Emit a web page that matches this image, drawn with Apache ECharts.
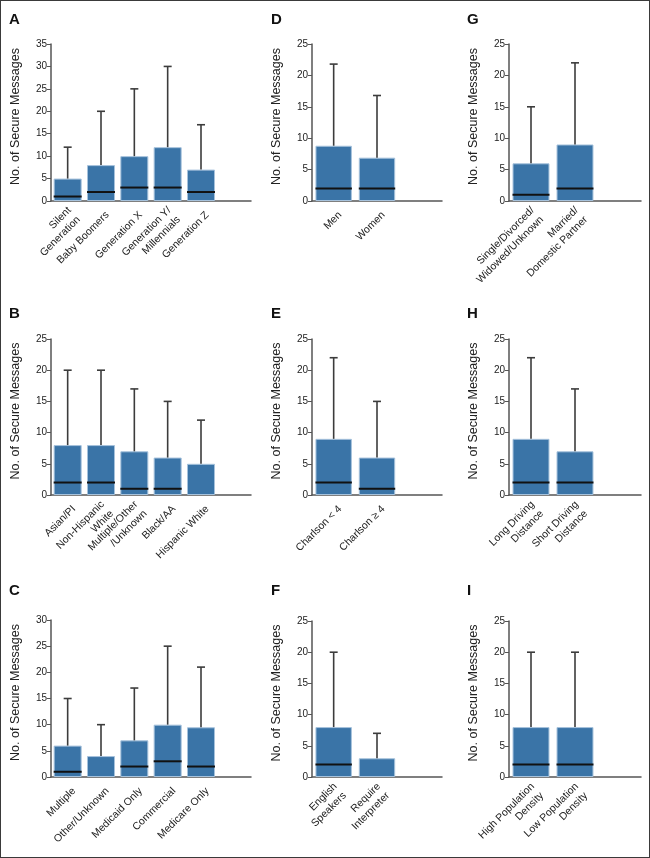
<!DOCTYPE html>
<html><head><meta charset="utf-8">
<script src="https://cdn.jsdelivr.net/npm/echarts@6/dist/echarts.min.js"></script>
<style>
html,body{margin:0;padding:0;background:#fff}
#c{position:absolute;left:0;top:0;width:650px;height:858px}
#f{position:absolute;left:0;top:0;width:650px;height:858px;box-sizing:border-box;border:1px solid #3a3a3a;pointer-events:none}
</style>
</head><body><div id="c"></div><div id="f"></div>
<script>
// Panel A: generation
const catsA = ['Silent\nGeneration','Baby Boomers','Generation X','Generation Y/\nMillennials','Generation Z'];
const upperA = [5, 8, 10, 12, 7];
const medianA = [1, 2, 3, 3, 2];
const whiskerA = [12, 20, 25, 30, 17];
// Panel B: race/ethnicity
const catsB = ['Asian/PI','Non-Hispanic\nWhite','Multiple/Other\n/Unknown','Black/AA','Hispanic White'];
const upperB = [8, 8, 7, 6, 5];
const medianB = [2, 2, 1, 1, 0];
const whiskerB = [20, 20, 17, 15, 12];
// Panel C: insurance
const catsC = ['Multiple','Other/Unknown','Medicaid Only','Commercial','Medicare Only'];
const upperC = [6, 4, 7, 10, 9.5];
const medianC = [1, 0, 2, 3, 2];
const whiskerC = [15, 10, 17, 25, 21];
// Panel D: sex
const catsD = ['Men','Women'];
const upperD = [8.8, 6.9];
const medianD = [2, 2];
const whiskerD = [21.8, 16.8];
// Panel E: Charlson
const catsE = ['Charlson < 4','Charlson ≥ 4'];
const upperE = [9, 6];
const medianE = [2, 1];
const whiskerE = [22, 15];
// Panel F: language
const catsF = ['English\nSpeakers','Require\nInterpreter'];
const upperF = [8, 3];
const medianF = [2, 0];
const whiskerF = [20, 7];
// Panel G: marital status
const catsG = ['Single/Divorced/\nWidowed/Unknown','Married/\nDomestic Partner'];
const upperG = [6, 9];
const medianG = [1, 2];
const whiskerG = [15, 22];
// Panel H: driving distance
const catsH = ['Long Driving\nDistance','Short Driving\nDistance'];
const upperH = [9, 7];
const medianH = [2, 2];
const whiskerH = [22, 17];
// Panel I: population density
const catsI = ['High Population\nDensity','Low Population\nDensity'];
const upperI = [8, 8];
const medianI = [2, 2];
const whiskerI = [20, 20];

const yTitle = 'No. of Secure Messages';

const panels = [
  {tag:'A', cats:catsA, up:upperA, med:medianA, wh:whiskerA, yMax:35, left:51,  top:44,  w:200, h:157, lx:9,   ly:12},
  {tag:'B', cats:catsB, up:upperB, med:medianB, wh:whiskerB, yMax:25, left:51,  top:339, w:200, h:156, lx:9,   ly:306},
  {tag:'C', cats:catsC, up:upperC, med:medianC, wh:whiskerC, yMax:30, left:51,  top:620, w:200, h:157, lx:9,   ly:583},
  {tag:'D', cats:catsD, up:upperD, med:medianD, wh:whiskerD, yMax:25, left:312, top:44,  w:130, h:157, lx:271, ly:12},
  {tag:'E', cats:catsE, up:upperE, med:medianE, wh:whiskerE, yMax:25, left:312, top:339, w:130, h:156, lx:271, ly:306},
  {tag:'F', cats:catsF, up:upperF, med:medianF, wh:whiskerF, yMax:25, left:312, top:621, w:130, h:156, lx:271, ly:583},
  {tag:'G', cats:catsG, up:upperG, med:medianG, wh:whiskerG, yMax:25, left:509, top:44,  w:132, h:157, lx:467, ly:12},
  {tag:'H', cats:catsH, up:upperH, med:medianH, wh:whiskerH, yMax:25, left:509, top:339, w:132, h:156, lx:467, ly:306},
  {tag:'I', cats:catsI, up:upperI, med:medianI, wh:whiskerI, yMax:25, left:509, top:621, w:132, h:156, lx:467, ly:583}
];

const GAP = 0.16;
const FONT = 'Liberation Sans, Arial, sans-serif';
const labelFmt = v => v === '' ? '' : v.split('\n').map(s => '{t|' + s + '}').join('\n');
const grid = [], xAxis = [], yAxis = [], series = [], title = [];
panels.forEach((p, k) => {
  grid.push({left:p.left, top:p.top, width:p.w, height:p.h, containLabel:false});
  title.push({text:p.tag, left:p.lx, top:p.ly, padding:0,
    textStyle:{fontFamily:FONT, fontWeight:'bold', fontSize:15, color:'#111'}});
  xAxis.push({
    type:'category', gridIndex:k, data:p.cats.concat(['']),
    axisLine:{lineStyle:{color:'#555', width:1.5}},
    axisTick:{show:false},
    axisLabel:{interval:0, rotate:45, margin:6, padding:[18,0,0,0], formatter:labelFmt,
      rich:{t:{fontSize:10.5, lineHeight:13, color:'#222', fontFamily:FONT}}}
  });
  yAxis.push({
    type:'value', gridIndex:k, min:0, max:p.yMax, interval:5,
    name:yTitle, nameLocation:'middle', nameRotate:90, nameGap:29,
    nameTextStyle:{fontSize:12.5, color:'#222', fontFamily:FONT, padding:[0,0,0,12]},
    axisLine:{show:true, lineStyle:{color:'#555', width:1.5}},
    axisTick:{show:true, length:4, lineStyle:{color:'#555'}},
    axisLabel:{fontSize:10, color:'#222', margin:4, fontFamily:FONT},
    splitLine:{show:false}
  });
  series.push({
    type:'bar', xAxisIndex:k, yAxisIndex:k, data:p.up, barCategoryGap:(GAP*100)+'%',
    itemStyle:{color:'#3a74a7', borderColor:'#a6c2dc', borderWidth:1}, z:2, silent:true
  });
  series.push({
    type:'custom', xAxisIndex:k, yAxisIndex:k, z:3, silent:true,
    data:p.up.map((u, i) => [i, u, p.wh[i]]),
    renderItem:(params, api) => {
      const a = api.coord([api.value(0), api.value(1)]);
      const b = api.coord([api.value(0), api.value(2)]);
      const st = {stroke:'#3c3c3c', lineWidth:1.6};
      return {type:'group', children:[
        {type:'line', shape:{x1:a[0], y1:a[1], x2:b[0], y2:b[1]}, style:st},
        {type:'line', shape:{x1:b[0]-4, y1:b[1], x2:b[0]+4, y2:b[1]}, style:st}
      ]};
    }
  });
  series.push({
    type:'custom', xAxisIndex:k, yAxisIndex:k, z:4, silent:true,
    data:p.med.map((m, i) => [i, m]),
    renderItem:(params, api) => {
      const v = api.value(1);
      if (!(v > 0)) return null; // a zero median sits on the axis and is not drawn
      const c = api.coord([api.value(0), v]);
      const bw = api.size([1, 0])[0] * (1 - GAP);
      return {type:'line', shape:{x1:c[0]-bw/2, y1:c[1], x2:c[0]+bw/2, y2:c[1]}, style:{stroke:'#111', lineWidth:2}};
    }
  });
});

const chart = echarts.init(document.getElementById('c'), null, {renderer:'canvas'});
chart.setOption({animation:false, backgroundColor:'#fff', title, grid, xAxis, yAxis, series});
</script>
</body></html>
